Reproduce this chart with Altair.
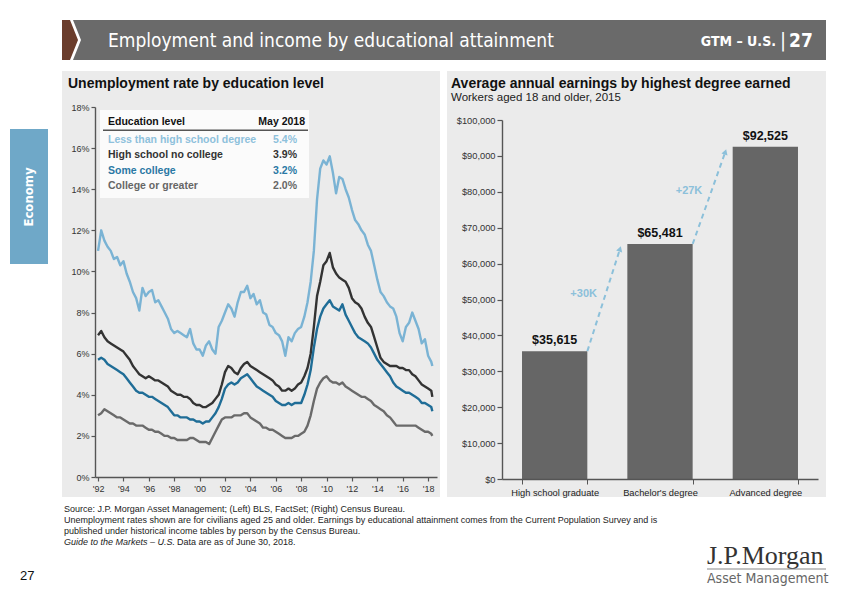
import altair as alt
import pandas as pd

# ---------------- data ----------------
series_names = ["Less than high school degree", "High school no college",
                "Some college", "College or greater"]
latest_labels = ["5.4%", "3.9%", "3.2%", "2.0%"]

# quarterly readings Jan-1992 .. Apr-2018, then May-2018
less_hs = [
    11.0, 12.0, 11.5, 11.2, 11.0, 10.6, 10.7, 10.3, 10.5, 9.9, 9.5, 9.0,
    8.7, 8.1, 9.2, 8.8, 9.0, 9.1, 8.5, 8.6, 8.3, 8.0, 7.7, 7.2,
    7.0, 7.1, 7.0, 6.9, 6.8, 7.2, 6.5, 6.2, 6.2, 5.9, 6.4, 6.6,
    6.2, 6.0, 7.3, 7.6, 8.0, 8.4, 8.2, 7.8, 8.5, 9.0, 9.0, 9.3,
    8.7, 8.9, 8.4, 8.6, 8.0, 7.9, 7.4, 7.3, 7.0, 6.9, 6.6, 5.9,
    6.8, 6.6, 7.0, 7.2, 7.3, 7.8, 8.5, 9.5, 11.0, 13.5, 15.0, 15.4,
    15.2, 15.6, 14.8, 13.8, 14.6, 14.5, 14.0, 13.6, 13.0, 12.5, 12.3, 12.0,
    11.8, 11.3, 11.0, 10.3, 9.6, 9.0, 8.8, 8.5, 8.3, 8.2, 7.8, 7.0,
    6.6, 7.3, 7.5, 8.0, 7.6, 7.2, 6.5, 6.7, 5.9, 5.6, 5.4]
hs_no_college = [
    6.9, 7.1, 6.8, 6.6, 6.5, 6.4, 6.3, 6.2, 6.1, 5.9, 5.7, 5.4,
    5.2, 5.0, 4.9, 4.8, 4.9, 4.8, 4.7, 4.7, 4.6, 4.5, 4.4, 4.2,
    4.1, 4.0, 4.0, 3.9, 3.9, 3.8, 3.6, 3.5, 3.5, 3.4, 3.4, 3.5,
    3.6, 3.8, 4.0, 4.5, 5.1, 5.4, 5.3, 5.1, 5.0, 5.3, 5.5, 5.6,
    5.4, 5.3, 5.2, 5.1, 5.0, 4.9, 4.8, 4.7, 4.5, 4.4, 4.2, 4.2,
    4.3, 4.2, 4.3, 4.5, 4.6, 4.9, 5.3, 6.0, 7.3, 8.8, 9.5, 10.3,
    10.5, 10.9, 10.2, 9.9, 9.7, 9.6, 9.5, 9.2, 8.7, 8.5, 8.4, 8.2,
    7.8, 7.5, 7.3, 6.8, 6.3, 5.8, 5.6, 5.5, 5.4, 5.4, 5.4, 5.3,
    5.3, 5.2, 5.2, 5.0, 4.9, 4.7, 4.5, 4.4, 4.3, 4.2, 3.9]
some_college = [
    5.7, 5.8, 5.7, 5.5, 5.4, 5.3, 5.2, 5.1, 5.0, 4.8, 4.6, 4.4,
    4.2, 4.1, 4.1, 4.0, 3.9, 3.9, 3.8, 3.7, 3.6, 3.5, 3.4, 3.2,
    3.0, 3.0, 2.9, 2.9, 2.9, 2.8, 2.8, 2.7, 2.7, 2.6, 2.7, 2.7,
    2.9, 3.1, 3.4, 3.8, 4.3, 4.5, 4.6, 4.5, 4.6, 4.8, 4.9, 5.0,
    4.8, 4.6, 4.4, 4.3, 4.2, 4.1, 4.0, 3.9, 3.7, 3.6, 3.5, 3.5,
    3.6, 3.5, 3.6, 3.6, 3.6, 4.0, 4.5, 5.2, 6.3, 7.2, 7.8, 8.2,
    8.4, 8.6, 8.3, 8.2, 8.1, 8.4, 7.9, 7.6, 7.3, 7.0, 6.8, 6.7,
    6.6, 6.5, 6.3, 6.0, 5.7, 5.5, 5.3, 5.1, 4.9, 4.6, 4.4, 4.3,
    4.2, 4.1, 4.1, 4.0, 3.9, 3.8, 3.6, 3.6, 3.5, 3.4, 3.2]
college_plus = [
    3.0, 3.1, 3.3, 3.2, 3.1, 3.0, 2.9, 2.9, 2.8, 2.7, 2.6, 2.6,
    2.5, 2.5, 2.5, 2.4, 2.3, 2.3, 2.2, 2.2, 2.1, 2.0, 2.0, 1.9,
    1.9, 1.8, 1.8, 1.8, 1.8, 1.9, 1.9, 1.8, 1.7, 1.7, 1.7, 1.6,
    1.9, 2.2, 2.5, 2.8, 2.9, 2.9, 2.9, 3.0, 3.0, 3.0, 3.1, 3.1,
    2.9, 2.8, 2.7, 2.6, 2.4, 2.4, 2.3, 2.3, 2.2, 2.1, 2.0, 1.9,
    1.9, 1.9, 2.0, 2.0, 2.1, 2.2, 2.5, 3.0, 3.7, 4.3, 4.6, 4.8,
    4.9, 4.7, 4.6, 4.6, 4.5, 4.6, 4.4, 4.3, 4.2, 4.1, 4.0, 3.9,
    3.9, 3.8, 3.7, 3.5, 3.4, 3.3, 3.2, 3.0, 2.9, 2.7, 2.5, 2.5,
    2.5, 2.5, 2.5, 2.5, 2.5, 2.4, 2.3, 2.2, 2.2, 2.1, 2.0]

pct_ticks = [0, 2, 4, 6, 8, 10, 12, 14, 16, 18]
year_ticks = [1992, 1994, 1996, 1998, 2000, 2002, 2004, 2006, 2008, 2010,
              2012, 2014, 2016, 2018]

degrees = ["High school graduate", "Bachelor's degree", "Advanced degree"]
earnings = [35615, 65481, 92525]
gain_labels = ["+30K", "+27K"]
dollar_ticks = [0, 10000, 20000, 30000, 40000, 50000, 60000, 70000, 80000,
                90000, 100000]

# ---------------- tables ----------------
times = [1992 + i / 4 for i in range(106)] + [2018 + 4 / 12]
rows = []
for name, vals in zip(series_names, [less_hs, hs_no_college, some_college, college_plus]):
    for t, v in zip(times, vals):
        rows.append({"year": t, "series": name, "rate": v})
line_df = pd.DataFrame(rows)

bar_df = pd.DataFrame({"degree": degrees, "earnings": earnings})
arrow_df = pd.DataFrame({
    "degree": degrees[:-1], "degree_to": degrees[1:],
    "earnings": earnings[:-1], "earnings_to": earnings[1:],
    "label": gain_labels})

one = pd.DataFrame({"k": [0]})

# ---------------- styles ----------------
W, H = 831, 585
SANS = "Liberation Sans, Arial, Helvetica, sans-serif"
COND = "Liberation Sans Narrow, DejaVu Sans Condensed, Roboto Condensed, Roboto, sans-serif"
SERIF = "Liberation Serif, DejaVu Serif, serif"
line_colors = ["#7ab3d4", "#333333", "#1f6d97", "#6a6a6a"]
legend_colors = ["#8ec1dc", "#333333", "#2a78a4", "#666666"]


def P(v):
    return v - 8


def rect(x1, x2, y1, y2, color, opacity=1.0):
    return alt.Chart(one).mark_rect(color=color, opacity=opacity).encode(
        x=alt.value(P(x1)), x2=alt.value(P(x2)), y=alt.value(P(y1)), y2=alt.value(P(y2)))


def text(s, x, y, size, color="#222222", weight="normal", align="left",
         font=SANS, style=None, angle=None):
    kw = dict(text=s, fontSize=size, color=color, fontWeight=weight,
              align=align, font=font, baseline="middle")
    if style:
        kw["fontStyle"] = style
    if angle is not None:
        kw["angle"] = angle
    return alt.Chart(one).mark_text(**kw).encode(x=alt.value(P(x)), y=alt.value(P(y)))


def tri(x, y, h, w, color):
    r = h / 2
    path = f"M0,-1 L{w / r:.4f},0 L0,1 Z"
    return alt.Chart(one).mark_point(shape=path, size=h * h, filled=True, color=color,
                                     opacity=1, strokeWidth=0).encode(
        x=alt.value(P(x)), y=alt.value(P(y)))


deco = [
    # header banner
    rect(73, 826, 20, 60, "#6a6a6a"),
    tri(73, 40, 40, 8, "#ffffff"),
    rect(62, 70, 20, 60, "#6b3d2c"),
    tri(70, 40, 40, 8, "#6b3d2c"),
    text("Employment and income by educational attainment", 108, 41, 19, "#ffffff", font=COND),
    text("GTM \u2013 U.S.", 776, 42, 14, "#ffffff", weight="bold", align="right", font=COND),
    text("|", 783, 41, 20, "#ffffff", align="center", font=COND),
    text("27", 789, 41, 19, "#ffffff", weight="bold", font=COND),
    # side tab
    rect(10, 48, 129, 264, "#6fa8c8"),
    text("Economy", 29, 197, 13, "#ffffff", weight="bold", align="center", font=COND, angle=270),
    # panels
    rect(62, 440, 71, 497, "#ebebeb"),
    rect(447, 826, 71, 497, "#ebebeb"),
    text("Unemployment rate by education level", 68, 84, 14, "#111111", weight="bold"),
    text("Average annual earnings by highest degree earned", 451, 84, 14, "#111111", weight="bold"),
    text("Workers aged 18 and older, 2015", 451, 98, 11.5, "#222222"),
    # legend box
    rect(100, 309, 110, 198, "#ffffff", 0.8),
    text("Education level", 108, 122, 10.5, "#111111", weight="bold"),
    text("May 2018", 305, 122, 10.5, "#111111", weight="bold", align="right"),
    rect(103, 308, 129.5, 131, "#555555"),
]
for i, (name, val) in enumerate(zip(series_names, latest_labels)):
    yy = 140 + i * 15.4
    deco.append(text(name, 108, yy, 10.5, legend_colors[i], weight="bold"))
    deco.append(text(val, 297, yy, 10.5, legend_colors[i], weight="bold", align="right"))

footer = [
    text("Source: J.P. Morgan Asset Management; (Left) BLS, FactSet; (Right) Census Bureau.", 64, 509, 9),
    text("Unemployment rates shown are for civilians aged 25 and older. Earnings by educational "
         "attainment comes from the Current Population Survey and is", 64, 520, 9),
    text("published under historical income tables by person by the Census Bureau.", 64, 531, 9),
    text("Guide to the Markets \u2013 U.S.", 64, 542, 9, style="italic"),
    text("Data are as of June 30, 2018.", 177, 542, 9),
    text("27", 20, 576, 13, "#111111"),
    text("J.P.Morgan", 707, 556, 26, "#333333", font=SERIF),
    rect(707, 826, 568.5, 569.5, "#8a8a8a"),
    text("Asset Management", 707, 579, 14, "#666666", font=COND),
]

AX = dict(grid=False, title=None, domainColor="#555555", tickColor="#555555",
          domainWidth=1.4, tickWidth=1.2, labelColor="#333333", labelFont=SANS, zindex=2)

lines = alt.Chart(line_df).mark_line(strokeWidth=2.4, strokeJoin="round").encode(
    x=alt.X("year:Q",
            scale=alt.Scale(domain=[1991.76, 2018.7], range=[P(95), P(437)], nice=False, zero=False),
            axis=alt.Axis(orient="bottom", offset=-(H - P(477)), values=year_ticks,
                          labelExpr="\"'\" + substring(toString(datum.value), 2, 4)",
                          tickSize=4, labelFontSize=9, labelPadding=3, **AX)),
    y=alt.Y("rate:Q",
            scale=alt.Scale(domain=[0, 18], range=[P(477), P(107)], nice=False),
            axis=alt.Axis(orient="left", offset=-P(95), values=pct_ticks,
                          labelExpr="datum.value + '%'", tickSize=4, labelFontSize=9,
                          labelPadding=2, **AX)),
    color=alt.Color("series:N", scale=alt.Scale(domain=series_names, range=line_colors),
                    legend=None),
)


def xb(field, axis=None):
    sc = alt.Scale(domain=degrees, range=[P(502), P(818)], paddingInner=0.38, paddingOuter=0.19)
    if axis is None:
        return alt.X(field, sort=degrees, scale=sc, axis=None)
    return alt.X(field, sort=degrees, scale=sc, axis=axis)


def yb(field, axis=None):
    sc = alt.Scale(domain=[0, 100000], range=[P(479), P(120)], nice=False)
    if axis is None:
        return alt.Y(field, scale=sc, axis=None)
    return alt.Y(field, scale=sc, axis=axis)


bars = alt.Chart(bar_df).mark_bar(color="#666666").encode(
    x=xb("degree:N", alt.Axis(orient="bottom", offset=-(H - P(479)), labelAngle=0,
                              tickBand="extent", tickSize=5, labelFontSize=9.3, labelPadding=4,
                              labelColor="#222222", grid=False, title=None,
                              domainColor="#555555", tickColor="#555555", domainWidth=1.4,
                              labelFont=SANS, zindex=2)),
    y=yb("earnings:Q", alt.Axis(orient="left", offset=-P(502), values=dollar_ticks,
                                format="$,.0f", tickSize=5, labelFontSize=9.3, labelPadding=2,
                                **AX)),
)
bar_labels = alt.Chart(bar_df).mark_text(dy=-11, fontSize=12.5, fontWeight="bold",
                                         font=SANS, color="#111111").encode(
    x=xb("degree:N"), y=yb("earnings:Q"),
    text=alt.Text("earnings:Q", format="$,.0f"),
)
arrows = alt.Chart(arrow_df).mark_rule(color="#8cc0da", strokeWidth=2, strokeDash=[5, 4],
                                       xOffset=32.7, x2Offset=-40, y2Offset=5).encode(
    x=xb("degree:N"), x2="degree_to:N",
    y=yb("earnings:Q"), y2="earnings_to:Q",
)
heads = alt.Chart(arrow_df).mark_point(shape="triangle-up", filled=True, size=40, opacity=1,
                                       color="#8cc0da", angle=18, xOffset=-40, yOffset=5).encode(
    x=xb("degree_to:N"), y=yb("earnings_to:Q"),
)
gain_text = alt.Chart(arrow_df).transform_calculate(
    mid="(datum.earnings + datum.earnings_to) / 2"
).mark_text(fontSize=11, fontWeight="bold", font=SANS, color="#8cc0da",
            xOffset=29, yOffset=-4).encode(
    x=xb("degree:N"), y=yb("mid:Q"), text="label:N",
)

chart = alt.layer(*deco, *footer, lines, bars, arrows, heads, bar_labels, gain_text).resolve_scale(
    x="independent", y="independent"
).properties(
    width=W, height=H, padding=0, autosize=alt.AutoSizeParams(type="none"),
    background="#ffffff"
).configure_view(stroke=None)

chart.save("out.html", embed_options={"renderer": "svg", "actions": False})
